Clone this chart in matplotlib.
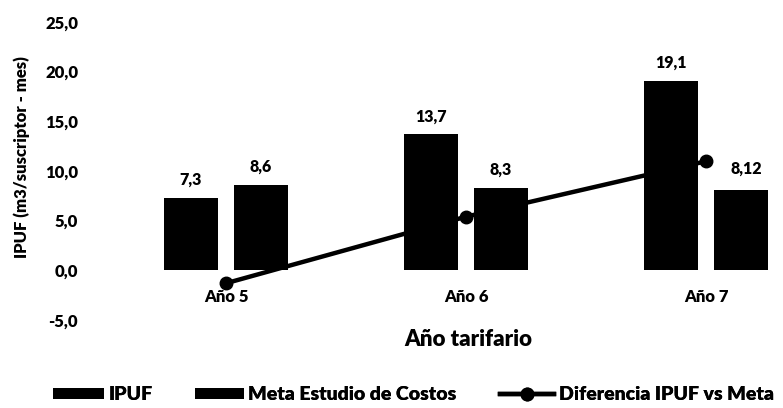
import numpy as np
import matplotlib.pyplot as plt
from matplotlib.patches import Patch
from matplotlib.lines import Line2D

plt.rcParams['font.family'] = ['Lato', 'DejaVu Sans']
plt.rcParams['font.weight'] = 'heavy'

# data
categorias = ['Año 5', 'Año 6', 'Año 7']
ipuf = [7.3, 13.7, 19.1]
meta = [8.6, 8.3, 8.12]
etiquetas_ipuf = ['7,3', '13,7', '19,1']
etiquetas_meta = ['8,6', '8,3', '8,12']
diferencia = [-1.3, 5.4, 10.98]
y_ticks = [-5, 0, 5, 10, 15, 20, 25]

fig = plt.figure(figsize=(7.83, 4.08), dpi=100)
# plot area (cropped at right like the original)
left = 106 / 783
bottom = (408 - 320) / 408
top = (408 - 22) / 408
ax = fig.add_axes([left, bottom, 1 - left, top - bottom])

x = np.arange(len(categorias))
w = 0.225
off = 0.146
fs = 11.5

ax.plot(x, diferencia, color='black', lw=3.2, marker='o', ms=9, zorder=1)
ax.bar(x - off, ipuf, w, color='black', zorder=2)
ax.bar(x + off, meta, w, color='black', zorder=2)

for i in range(len(x)):
    ax.annotate(etiquetas_ipuf[i], (x[i] - off, ipuf[i]), xytext=(0, 7),
                textcoords='offset points', ha='center', va='bottom', fontsize=fs, fontweight='heavy')
    if i == 2:
        ax.annotate(etiquetas_meta[i], (x[i] + off + 0.02, meta[i]), xytext=(0, 9),
                    textcoords='offset points', ha='center', va='bottom', fontsize=fs, fontweight='heavy')
    else:
        ax.annotate(etiquetas_meta[i], (x[i] + off, meta[i]), xytext=(0, 7),
                    textcoords='offset points', ha='center', va='bottom', fontsize=fs, fontweight='heavy')

ax.set_xlim(-0.5, -0.5 + (783 - 106) / 240)
ax.set_ylim(-5, 25)
ax.set_yticks(y_ticks)
ax.set_yticklabels([('%.1f' % v).replace('.', ',') for v in y_ticks], fontsize=12, fontweight='heavy')
ax.tick_params(axis='y', length=0, pad=20)
ax.set_xticks([])

for i, c in enumerate(categorias):
    ax.text(x[i], -1.9, c, ha='center', va='top', fontsize=12, fontweight='heavy')

for s in ax.spines.values():
    s.set_visible(False)

fig.text(22 / 783, 1 - 157 / 408, 'IPUF (m3/suscriptor - mes)', rotation=90, ha='center', va='center',
         fontsize=12, fontweight='heavy')
fig.text(468 / 783, 1 - 340 / 408, 'Año tarifario', ha='center', va='center', fontsize=16, fontweight='heavy')

# legend, one entry at a time so the spacing follows the original
leg_items = [(Patch(facecolor='black', label='IPUF'), 53, 2.6),
             (Patch(facecolor='black', label='Meta Estudio de Costos'), 195, 2.5),
             (Line2D([0], [0], color='black', lw=3.2, marker='o', ms=9, label='Diferencia IPUF vs Meta'), 500, 2.8)]
for h, px, hl in leg_items:
    lg = fig.legend(handles=[h], loc='center left', bbox_to_anchor=(px / 783, 0.032), frameon=False,
                    prop={'size': 14, 'weight': 'heavy'}, handlelength=hl, handleheight=0.47,
                    handletextpad=0.25, borderaxespad=0, borderpad=0)
    fig.add_artist(lg)

fig.savefig('out.png', dpi=100)
